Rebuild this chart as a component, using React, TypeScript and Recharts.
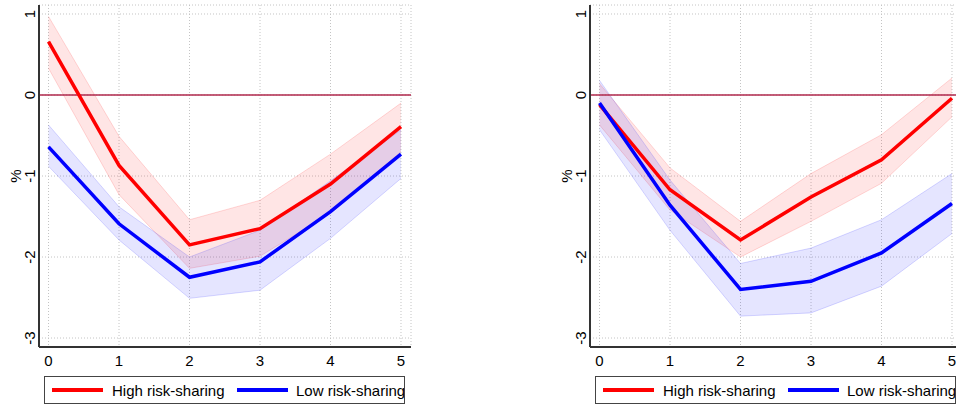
import React from 'react';
import { ComposedChart, Line, Area, XAxis, YAxis, CartesianGrid, ReferenceLine } from 'recharts';

const horizons = [0, 1, 2, 3, 4, 5];
const yTicks = [-3, -2, -1, 0, 1];

// left panel
const leftHigh = [0.66, -0.87, -1.85, -1.65, -1.1, -0.39];
const leftHighUpper = [0.97, -0.51, -1.54, -1.3, -0.73, -0.1];
const leftHighLower = [0.33, -1.23, -2.14, -1.99, -1.46, -0.7];
const leftLow = [-0.64, -1.59, -2.25, -2.06, -1.44, -0.73];
const leftLowUpper = [-0.37, -1.38, -2.0, -1.67, -1.06, -0.43];
const leftLowLower = [-0.88, -1.79, -2.51, -2.41, -1.77, -1.03];

// right panel
const rightHigh = [-0.12, -1.17, -1.79, -1.26, -0.8, -0.04];
const rightHighUpper = [0.14, -0.9, -1.56, -0.97, -0.49, 0.21];
const rightHighLower = [-0.37, -1.42, -2.0, -1.56, -1.09, -0.27];
const rightLow = [-0.1, -1.36, -2.4, -2.3, -1.95, -1.34];
const rightLowUpper = [0.18, -1.05, -2.08, -1.89, -1.54, -0.97];
const rightLowLower = [-0.43, -1.67, -2.73, -2.69, -2.36, -1.71];

const FONT = '"Liberation Sans", Arial, sans-serif';

const build = (
  high: number[], highUp: number[], highLo: number[],
  low: number[], lowUp: number[], lowLo: number[]
) =>
  horizons.map((h, i) => ({
    h,
    high: high[i],
    highBand: [highLo[i], highUp[i]],
    low: low[i],
    lowBand: [lowLo[i], lowUp[i]],
  }));

const YTick = ({ y, payload }: any) => (
  <text
    transform={`translate(29,${y}) rotate(-90)`}
    textAnchor="middle"
    dominantBaseline="central"
    fontSize={15}
    fontFamily={FONT}
    fill="#000"
  >
    {payload.value}
  </text>
);

const XTick = ({ x, payload }: any) => (
  <text x={x} y={360} textAnchor="middle" dominantBaseline="central" fontSize={15} fontFamily={FONT} fill="#000">
    {payload.value}
  </text>
);

const PercentLabel = () => (
  <text
    transform="translate(15,176) rotate(-90)"
    textAnchor="middle"
    dominantBaseline="central"
    fontSize={15}
    fontFamily={FONT}
    fill="#000"
  >
    %
  </text>
);

const Panel = ({ data, left }: { data: any[]; left: number }) => (
  <div style={{ position: 'absolute', left, top: 0 }}>
    <ComposedChart width={421} height={406} data={data} margin={{ top: 5, right: 10, bottom: 0, left: 0 }}>
      <CartesianGrid stroke="#c4c4c4" strokeDasharray="1 2" />
      <XAxis
        dataKey="h"
        type="number"
        domain={[-0.135, 5.142]}
        ticks={horizons}
        height={59}
        tickLine={false}
        axisLine={{ stroke: '#333', strokeWidth: 2 }}
        tick={<XTick />}
      />
      <XAxis xAxisId="top" orientation="top" dataKey="h" type="number" domain={[-0.135, 5.142]} height={0} tick={false} tickLine={false} axisLine={{ stroke: '#777', strokeWidth: 2 }} />
      <YAxis
        type="number"
        domain={[-3.111, 1.111]}
        ticks={yTicks}
        width={39}
        tickLine={false}
        axisLine={{ stroke: '#333', strokeWidth: 2 }}
        tick={<YTick />}
        label={<PercentLabel />}
      />
      <YAxis yAxisId="right" orientation="right" type="number" domain={[-3.111, 1.111]} width={0} tick={false} tickLine={false} axisLine={{ stroke: '#777', strokeWidth: 2 }} />
      <ReferenceLine y={0} stroke="#b0284c" strokeWidth={1.5} />
      <Area dataKey="highBand" type="linear" fill="rgba(255,0,0,0.1)" fillOpacity={1} stroke="rgba(255,0,0,0.15)" strokeWidth={1} isAnimationActive={false} />
      <Area dataKey="lowBand" type="linear" fill="rgba(0,0,255,0.1)" fillOpacity={1} stroke="rgba(0,0,255,0.15)" strokeWidth={1} isAnimationActive={false} />
      <Line dataKey="high" type="linear" stroke="#ff0000" strokeWidth={3.5} dot={false} isAnimationActive={false} />
      <Line dataKey="low" type="linear" stroke="#0000ff" strokeWidth={3.5} dot={false} isAnimationActive={false} />
    </ComposedChart>
  </div>
);

const LegendBox = ({ left }: { left: number }) => (
  <div
    style={{
      position: 'absolute',
      left,
      top: 376,
      width: 361,
      height: 28,
      border: '1px solid #444',
      boxSizing: 'border-box',
      background: '#fff',
      fontFamily: FONT,
      fontSize: 15,
      overflow: 'hidden',
      whiteSpace: 'nowrap',
    }}
  >
    <div style={{ position: 'absolute', left: 7, top: 11, width: 51, height: 4, background: '#ff0000' }} />
    <div style={{ position: 'absolute', left: 67, top: 0, lineHeight: '27px' }}>High risk-sharing</div>
    <div style={{ position: 'absolute', left: 192, top: 11, width: 51, height: 4, background: '#0000ff' }} />
    <div style={{ position: 'absolute', left: 251, top: 0, lineHeight: '27px' }}>Low risk-sharing</div>
  </div>
);

export default function App() {
  const leftData = build(leftHigh, leftHighUpper, leftHighLower, leftLow, leftLowUpper, leftLowLower);
  const rightData = build(rightHigh, rightHighUpper, rightHighLower, rightLow, rightLowUpper, rightLowLower);
  return (
    <div style={{ position: 'absolute', left: 0, top: 0, width: 956, height: 406, overflow: 'hidden', background: '#fff' }}>
      <Panel data={leftData} left={0} />
      <Panel data={rightData} left={551} />
      <LegendBox left={44} />
      <LegendBox left={595} />
    </div>
  );
}
